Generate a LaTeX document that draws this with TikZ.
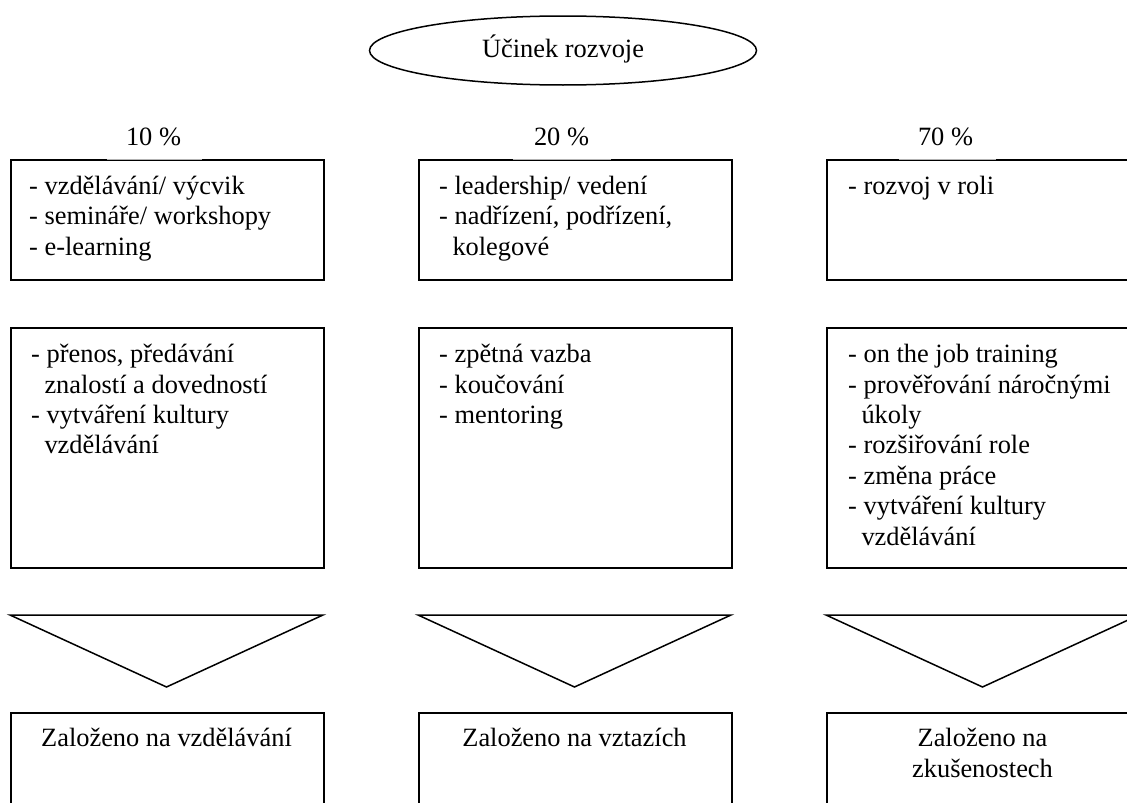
\documentclass[tikz,border=0pt]{standalone}
\usepackage{fontspec}
\setmainfont{Liberation Serif}
\usetikzlibrary{shapes.geometric}
\begin{document}
\begin{tikzpicture}[x=1pt,y=-1pt,
  txtfont/.style={font=\fontsize{26.4}{30.4}\selectfont},
  boxshape/.style={draw, line width=1.5pt, rectangle, inner sep=0pt, anchor=north west, minimum width=313pt},
  topbox/.style={boxshape, minimum height=120pt},
  midbox/.style={boxshape, minimum height=240pt},
  botbox/.style={boxshape, minimum height=140pt},
  listtxt/.style={txtfont, inner sep=0pt, anchor=base west},
  ctrtxt/.style={txtfont, inner sep=0pt, anchor=base},
  pct/.style={txtfont, inner sep=0pt, anchor=base},
  tri/.style={draw, line width=1.5pt, line join=miter},
  gapwhite/.style={draw=white, line width=2.6pt},
  gapgray/.style={draw=black!30, line width=0.6pt},
  oval/.style={draw, ellipse, line width=1.5pt, inner sep=0pt, txtfont, text height=20pt, text depth=6.4pt}
]
\useasboundingbox (0,0) rectangle (1127,803);
\clip (0,0) rectangle (1127,803);

% ellipse
\node[oval, minimum width=387pt, minimum height=69pt] (ell) at (563,50.5) {Účinek rozvoje};

% top boxes
\node[topbox] (t1) at (10,159) {};
\node[topbox] (t2) at (418,159) {};
\node[topbox] (t3) at (826,159) {};

% gaps in the top borders
\draw[gapwhite] (107,159) -- (202,159);
\draw[gapgray] (107,159) -- (202,159);
\draw[gapwhite] (513,159) -- (611,159);
\draw[gapgray] (513,159) -- (611,159);
\draw[gapwhite] (899,159) -- (996,159);
\draw[gapgray] (899,159) -- (996,159);

% percentage labels
\node[pct] (p1) at (153.5,145.7) {10 \%};
\node[pct] (p2) at (561.5,145.7) {20 \%};
\node[pct] (p3) at (945.5,145.7) {70 \%};

% top texts
\node[listtxt] (tt1) at (29,194.5) {\begin{tabular}[t]{@{}l@{}}- vzdělávání/ výcvik\\- semináře/ workshopy\\- e-learning\end{tabular}};
\node[listtxt] (tt2) at (439,194.5) {\begin{tabular}[t]{@{}l@{}}- leadership/ vedení\\- nadřízení, podřízení,\\\hspace*{13.3pt}kolegové\end{tabular}};
\node[listtxt] (tt3) at (848,194.5) {\begin{tabular}[t]{@{}l@{}}- rozvoj v roli\end{tabular}};

% middle boxes
\node[midbox] (m1) at (10,327) {};
\node[midbox] (m2) at (418,327) {};
\node[midbox] (m3) at (826,327) {};

\node[listtxt] (mt1) at (31,362.7) {\begin{tabular}[t]{@{}l@{}}- přenos, předávání\\\hspace*{13.3pt}znalostí a dovedností\\- vytváření kultury\\\hspace*{13.3pt}vzdělávání\end{tabular}};
\node[listtxt] (mt2) at (439,362.7) {\begin{tabular}[t]{@{}l@{}}- zpětná vazba\\- koučování\\- mentoring\end{tabular}};
\node[listtxt] (mt3) at (848,362.7) {\begin{tabular}[t]{@{}l@{}}- on the job training\\- prověřování náročnými\\\hspace*{13.3pt}úkoly\\- rozšiřování role\\- změna práce\\- vytváření kultury\\\hspace*{13.3pt}vzdělávání\end{tabular}};

% triangles
\draw[tri] (10,615) -- (323,615) -- (166.5,687) -- cycle;
\draw[tri] (418,615) -- (731,615) -- (574.5,687) -- cycle;
\draw[tri] (826,615) -- (1139,615) -- (982.5,687) -- cycle;

% bottom boxes
\node[botbox] (b1) at (10,712) {};
\node[botbox] (b2) at (418,712) {};
\node[botbox] (b3) at (826,712) {};

\node[ctrtxt] (bt1) at (166.5,746.7) {Založeno na vzdělávání};
\node[ctrtxt] (bt2) at (574.5,746.7) {Založeno na vztazích};
\node[ctrtxt] (bt3) at (982.5,746.7) {\begin{tabular}[t]{@{}c@{}}Založeno na\\zkušenostech\end{tabular}};
\end{tikzpicture}
\end{document}
